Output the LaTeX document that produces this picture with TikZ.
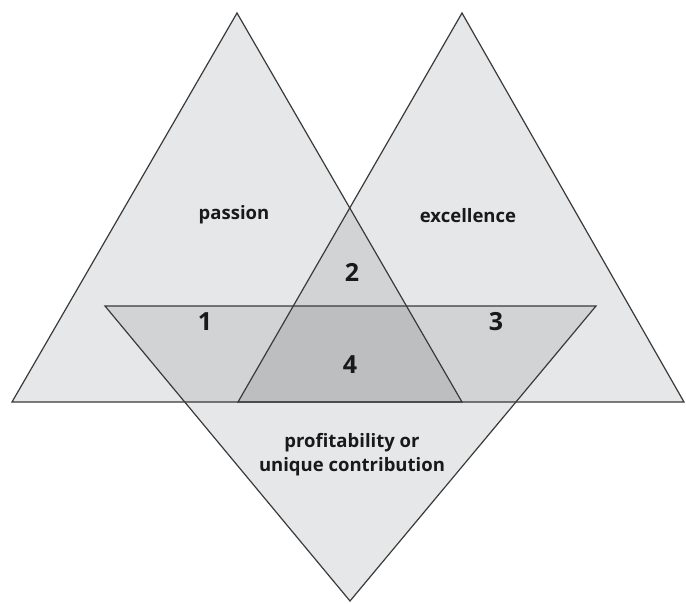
\documentclass[tikz,border=0pt]{standalone}
\usepackage{fontspec}
\setmainfont{Open Sans}
\definecolor{shadeA}{HTML}{E6E7E8}
\definecolor{shadeB}{HTML}{D2D3D5}
\definecolor{shadeC}{HTML}{BDBEC0}
\definecolor{edge}{HTML}{3A3A3A}
\tikzset{
  outline/.style={draw=edge, line width=1.2pt, line join=miter},
  label/.style={font=\bfseries\fontsize{18.5}{24}\selectfont, text=black!90, align=center},
  num/.style={font=\bfseries\fontsize{25}{28}\selectfont, text=black!90}
}
\begin{document}
\begin{tikzpicture}[x=1pt,y=-1pt]
\useasboundingbox (0,0) rectangle (686,603);
% corners of the three triangles
\coordinate (LA) at (237,13);  \coordinate (LL) at (12,402);  \coordinate (LR) at (462,402);
\coordinate (RA) at (462,13);  \coordinate (RL) at (238,402); \coordinate (RR) at (684,402);
\coordinate (BL) at (105,306); \coordinate (BR) at (596,306); \coordinate (BA) at (350,601);
\def\passionT{(LA) -- (LL) -- (LR) -- cycle}
\def\excelT{(RA) -- (RL) -- (RR) -- cycle}
\def\profitT{(BL) -- (BR) -- (BA) -- cycle}
% base shading
\fill[shadeA] \passionT;
\fill[shadeA] \excelT;
\fill[shadeA] \profitT;
% pairwise overlaps
\begin{scope}\clip \passionT; \fill[shadeB] \excelT; \fill[shadeB] \profitT;\end{scope}
\begin{scope}\clip \excelT; \fill[shadeB] \profitT;\end{scope}
% triple overlap
\begin{scope}\clip \passionT; \clip \excelT; \fill[shadeC] \profitT;\end{scope}
% outlines
\draw[outline] \passionT;
\draw[outline] \excelT;
\draw[outline] \profitT;
% labels
\node[label] (passion) at (234,215) {passion};
\node[label] (excellence) at (468,216) {excellence};
\node[label] (profit) at (352,455) {profitability or\\unique contribution};
\node[num] (one) at (205,322) {1};
\node[num] (two) at (352,272) {2};
\node[num] (three) at (496,322) {3};
\node[num] (four) at (350,365) {4};
\end{tikzpicture}
\end{document}
